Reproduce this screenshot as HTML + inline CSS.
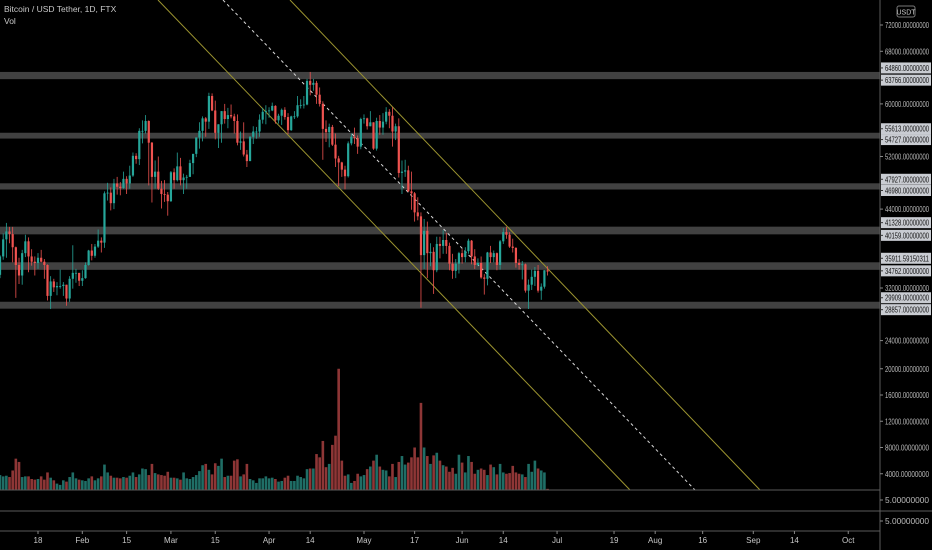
<!DOCTYPE html>
<html><head><meta charset="utf-8"><style>
html,body{margin:0;padding:0;background:#000;}
svg{display:block;font-family:"Liberation Sans",sans-serif;}
</style></head><body>
<svg id="chart" width="932" height="550" viewBox="0 0 932 550">
<rect x="0" y="0" width="932" height="550" fill="#000"/>
<g id="bands"></g>
<g id="trend"></g>
<g id="vol"></g>
<g id="candles"></g>
<line x1="0" y1="490" x2="880" y2="490" stroke="#5a5a5a"/>
<line x1="0" y1="511" x2="932" y2="511" stroke="#5a5a5a"/>
<line x1="0" y1="531" x2="880" y2="531" stroke="#5a5a5a"/>
<line x1="880" y1="0" x2="880" y2="550" stroke="#5a5a5a"/>
<g id="yaxis"></g>
<g id="xaxis"></g>
<text x="4" y="12" fill="#c8c8c8" font-size="8.5">Bitcoin / USD Tether, 1D, FTX</text>
<text x="4" y="24" fill="#c8c8c8" font-size="8.5">Vol</text>
<rect x="897" y="6" width="18" height="11" rx="2" fill="#000" stroke="#777"/>
<text x="906" y="14.5" fill="#ccc" font-size="7" text-anchor="middle">USDT</text>
</svg>
<script>
const closes=[36800,39400,40600,40200,38200,35500,33900,37300,39100,36800,36000,35800,36600,36000,35500,30800,33000,32100,32300,32300,32500,30400,33400,34300,34300,33100,
33500,35500,37700,36900,38300,39200,38900,46400,46500,44900,47900,47400,47200,48600,47900,49100,52100,51600,55900,55900,57400,54100,48900,49700,47100,46300,46200,45200,
49600,48400,50500,48400,48800,48900,51000,52400,54900,55900,57800,57300,61200,59000,55600,56900,58900,57700,58300,58100,57400,54100,54300,52300,51300,55000,55800,55800,57600,58800,58900,
59000,59700,57500,58200,59100,58000,56000,58100,58100,59800,59800,59900,63500,62900,63200,61400,60000,56200,55700,56500,53800,51700,51100,50000,49000,54000,55000,54800,53500,57700,
57800,56600,57200,53200,57400,56400,57300,58800,58200,55800,56600,49500,49700,49900,46700,46400,43500,42900,37000,40700,37300,37500,34700,38700,38400,39300,38400,35700,34600,35700,37300,
36700,37600,39200,36800,35500,35800,33600,33400,37400,36700,37300,35500,39100,40500,40100,38300,38100,35800,35500,35600,31600,32500,33700,34600,31600,32200,34700,34500];
const highs=[37000,40300,41900,41300,41300,38300,36600,37800,40100,39700,37900,36800,37300,37800,36400,35600,33800,33400,32900,34800,32900,32500,33800,38500,34900,34300,
34700,35900,37800,38700,38700,40900,39700,46700,48000,47300,48600,48900,48100,49700,49000,50600,52600,52500,56300,57500,58300,57500,54200,51400,52000,48300,48400,46600,
49800,50200,52600,51800,49400,49200,51500,52400,54900,57200,58100,58000,61700,61600,60500,56900,58900,60000,59400,59900,58500,58400,55800,57200,53000,55100,56600,56500,58400,59400,59800,
59500,60200,59800,58500,59300,59500,58600,58200,58900,61200,60700,61200,63800,64860,63800,63500,62500,60400,57500,57000,56800,55500,52100,51200,50600,54300,55500,56400,55200,57900,
58400,57900,58900,57200,57900,58300,58600,59500,59200,59500,57000,57800,51400,51500,50600,49700,46600,45800,43500,42500,42100,38800,38200,39800,39800,40800,40400,38900,37200,36400,37500,
37900,38200,39500,39300,37900,36500,36800,34100,37500,38400,37700,37400,39300,41100,41300,40500,39500,38200,36400,36100,35700,33300,34800,35200,35500,32700,34700,35300];
const lows=[33500,36300,36600,38800,35900,30500,32600,32500,36700,34400,35400,33900,34900,35900,33400,30100,28800,31400,30900,31900,30800,29300,29900,31900,32800,32300,
32300,33400,35400,36200,36600,38100,37400,38100,45300,43800,44000,46200,46100,47100,46300,47100,48900,50900,50700,54000,55500,47600,45000,47100,46900,44100,45100,43000,
45100,47100,48200,47600,46300,47100,48900,49300,51900,53200,54300,55000,56200,58900,54600,53300,54100,57000,56300,57800,55500,53700,53000,52000,50400,51300,53900,54700,55000,57000,56900,
57900,58900,57000,57000,56800,57600,55400,55900,57700,57900,59300,59300,59800,61300,62000,60000,59600,51500,54200,53400,53600,50400,47500,48900,47000,48800,53700,53900,52400,53100,
57000,56100,56600,53000,52900,55300,55300,56900,56300,53500,54500,48800,46300,48900,46600,43900,42100,42300,29000,34900,33500,35300,31100,34400,36500,37200,37200,34700,33400,33500,34200,
35700,35900,37200,35600,34900,35300,33400,31000,32400,35800,35900,34700,34800,38700,39500,38100,37400,35100,34800,33300,31300,28800,31700,32300,31300,30200,31900,33900];
const volumes=[3800,3600,3700,3500,4500,6300,5800,3500,3600,3600,3200,3100,3200,3600,3100,4200,3400,3000,2500,2300,3000,2800,3500,4200,3300,3100,
3000,2900,3300,3600,3000,3300,3600,5400,4200,3700,3400,3400,3300,3500,3400,3700,4200,3500,3900,4800,4700,3800,5500,4100,3900,3800,3700,4300,
3400,3400,3300,3100,4200,3300,3200,3500,3800,4400,5300,5500,4600,3900,5600,5200,6300,3500,3700,3700,6000,6200,3600,3900,5500,3200,3000,2600,3300,3300,3600,
3300,3400,3200,2800,2900,3400,3700,2900,2900,3700,3500,3300,4700,4800,4800,7000,6500,9000,5000,5500,8400,9800,20000,6000,3700,3900,2600,2900,4000,3600,
3800,4700,5100,6000,6900,5100,4600,4500,3600,5500,3500,5800,6700,5400,5700,6500,8000,6500,14800,8000,6700,5500,6800,7200,6000,5300,5100,4300,4900,4000,6900,
5700,4200,6700,5800,4000,4600,4800,4600,3800,5400,5000,3900,5500,4200,4000,4100,5200,4200,4000,3900,3500,5500,4300,6000,4800,4500,4200,1700];
const firstOpen=34000;
const firstDay=5; // Jan 6 2021 as day-of-year index (Jan 1 = 0)
const bandPrices=[[64860,63766],[55613,54727],[47927,46980],[41328,40159],[35911.59150311,34762],[29909,28857]];
const bandLabels=[["64860.00000000","63766.00000000"],["55613.00000000","54727.00000000"],["47927.00000000","46980.00000000"],["41328.00000000","40159.00000000"],["35911.59150311","34762.00000000"],["29909.00000000","28857.00000000"]];
const priceTicks=[72000,68000,60000,52000,44000,32000,24000];
const priceTickLabels=["72000.00000000","68000.00000000","60000.00000000","52000.00000000","44000.00000000","32000.00000000","24000.00000000"];
const volTicks=[20000,16000,12000,8000,4000];
const volTickLabels=["20000.00000000","16000.00000000","12000.00000000","8000.00000000","4000.00000000"];
const timeTickDays=[17,31,45,59,73,90,103,120,136,151,164,181,199,212,227,243,256,273];
const timeTickLabels=["18","Feb","15","Mar","15","Apr","14","May","17","Jun","14","Jul","19","Aug","16","Sep","14","Oct"];

const NS="http://www.w3.org/2000/svg";
function yP(p){return 25+(72000-p)*0.006575;}
function yV(v){return 500-v*0.0065625;}
function xD(d){return 38+(d-17)*3.165;}
function mk(tag,attrs,parent){const e=document.createElementNS(NS,tag);for(const k in attrs)e.setAttribute(k,attrs[k]);parent.appendChild(e);return e;}

const gB=document.getElementById('bands');
bandPrices.forEach((b,i)=>{
  const r=mk('rect',{x:0,y:yP(b[0]),width:880,height:yP(b[1])-yP(b[0]),fill:'#4c4c4c',opacity:0.85},gB);
  
  
});

const gT=document.getElementById('trend');
const l1=mk('line',{x1:158,y1:0,x2:630,y2:490,stroke:'#9c9430','stroke-width':1},gT);


const l2=mk('line',{x1:223,y1:0,x2:695,y2:490,stroke:'#d8d8d8','stroke-width':1,'stroke-dasharray':'3 3'},gT);


const l3=mk('line',{x1:290,y1:0,x2:760,y2:490,stroke:'#9c9430','stroke-width':1},gT);



const gV=document.getElementById('vol'),gC=document.getElementById('candles');
closes.forEach((c,i)=>{
  const o=i===0?firstOpen:closes[i-1];
  const up=c>=o;
  const x=xD(firstDay+i);
  const vy=yV(volumes[i]);
  const vb=mk('rect',{x:x-1.3,y:Math.min(vy,490),width:2.6,height:Math.max(0,490-vy),fill:up?'#1f6e66':'#8e3636'},gV);
  
  
  const col=up?'#26a69a':'#ef5350';
  const w=mk('line',{x1:x,y1:yP(highs[i]),x2:x,y2:yP(lows[i]),stroke:col,'stroke-width':0.8},gC);
  
  
  const top=yP(Math.max(o,c)),bot=yP(Math.min(o,c));
  const b=mk('rect',{x:x-1.1,y:top,width:2.2,height:Math.max(0.8,bot-top),fill:col},gC);
  
  
});

const gY=document.getElementById('yaxis');
function axisLabel(y,txt,boxed,name){
  if(boxed){const r=mk('rect',{x:881,y:y-5.5,width:50,height:11,fill:'#c9ccd2'},gY);
    
    }
  mk('line',{x1:880,y1:y,x2:883,y2:y,stroke:boxed?'#333':'#888'},gY);
  const t=mk('text',{x:885,y:y+3,'font-size':8,fill:boxed?'#111':'#bbb',textLength:44,lengthAdjust:'spacingAndGlyphs'},gY);
  t.textContent=txt;
  
  
}
priceTicks.forEach((p,i)=>axisLabel(yP(p),priceTickLabels[i],false,'price-tick-label'));
volTicks.forEach((v,i)=>axisLabel(yV(v),volTickLabels[i],false,'volume-tick-label'));
axisLabel(500,"5.00000000",false,'pane-tick-label');
axisLabel(521,"5.00000000",false,'pane-tick-label');
bandPrices.forEach((b,i)=>{
  axisLabel(yP(b[0])-4,bandLabels[i][0],true,'band-price-label');
  axisLabel(yP(b[1])+1,bandLabels[i][1],true,'band-price-label');
});

const gX=document.getElementById('xaxis');
timeTickDays.forEach((d,i)=>{
  const x=xD(d);
  mk('line',{x1:x,y1:531,x2:x,y2:534,stroke:'#888'},gX);
  const t=mk('text',{x:x,y:543,'font-size':8,fill:'#c8c8c8','text-anchor':'middle'},gX);
  t.textContent=timeTickLabels[i];
  
  
});
</script>
</body></html>
